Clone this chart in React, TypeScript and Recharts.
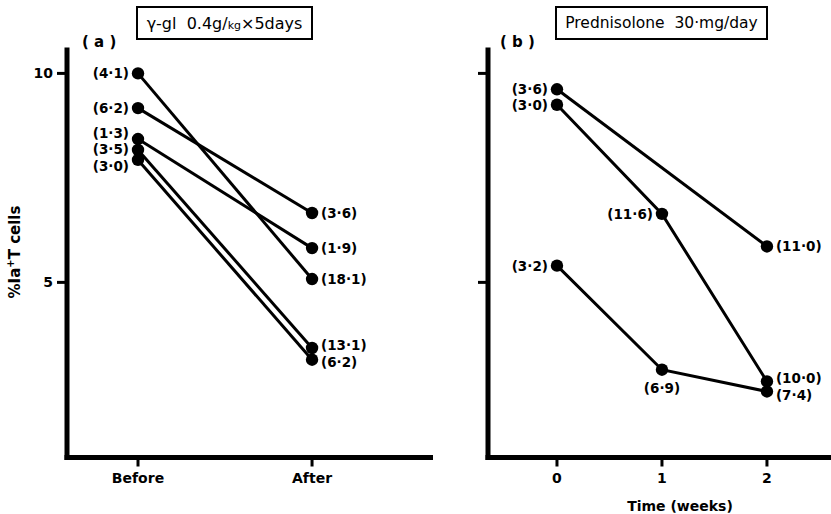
import { LineChart, Line, XAxis, YAxis, LabelList } from "recharts";

// panel (a): gamma-globulin, before / after
const gammaPhases = [0, 1];
const gammaTickLabels = ["Before", "After"];
const gammaBefore = [10.0, 9.17, 8.43, 8.17, 7.93];
const gammaAfter = [5.08, 6.66, 5.82, 3.43, 3.15];
const gammaBeforeTags = ["4·1", "6·2", "1·3", "3·5", "3·0"];
const gammaAfterTags = ["18·1", "3·6", "1·9", "13·1", "6·2"];

// panel (b): prednisolone, weeks 0-2
const predWeeks = [0, 1, 2];
const predA = [9.62, null, 5.86];
const predB = [9.25, 6.64, 2.63];
const predC = [5.4, 2.91, 2.39];
const predATags = ["3·6", null, "11·0"];
const predBTags = ["3·0", "11·6", "10·0"];
const predCTags = ["3·2", "6·9", "7·4"];

const yTicks = [5, 10];
const yDomain = [0.81, 10.56];

type Pt = { x: number; y: number; tag: string };

const toPoints = (xs: number[], ys: (number | null)[], tags: (string | null)[]): Pt[] =>
  xs
    .map((x, i) => (ys[i] == null ? null : { x, y: ys[i] as number, tag: `(${tags[i]})` }))
    .filter((p): p is Pt => p !== null);

const gammaSeries = gammaBefore.map((b, i) =>
  toPoints(gammaPhases, [b, gammaAfter[i]], [gammaBeforeTags[i], gammaAfterTags[i]])
);
const predSeries = [
  toPoints(predWeeks, predA, predATags),
  toPoints(predWeeks, predB, predBTags),
  toPoints(predWeeks, predC, predCTags),
];
const predMiddle = ["left", "left", "below"];

const CHART_H = 514;
const TOP = 50;
const XAXIS_H = 56.5;
const PX_PER_UNIT = (CHART_H - TOP - XAXIS_H) / (yDomain[1] - yDomain[0]);

// push labels in the same column apart so they stack like the original
function tagOffsets(series: Pt[][], gap: number): number[][] {
  const offs = series.map((pts) => pts.map(() => 0));
  const cols = new Map<number, { s: number; p: number; v: number }[]>();
  series.forEach((pts, s) =>
    pts.forEach((pt, p) => {
      const c = cols.get(pt.x) ?? [];
      c.push({ s, p, v: pt.y });
      cols.set(pt.x, c);
    })
  );
  const place = (g: { v: number }[]) => {
    const mean = g.reduce((a, it) => a + it.v, 0) / g.length;
    return g.map((_, k) => mean + gap * ((g.length - 1) / 2 - k));
  };
  cols.forEach((items) => {
    items.sort((a, b) => b.v - a.v);
    const groups = items.map((it) => [it]);
    let merged = true;
    while (merged) {
      merged = false;
      for (let i = 0; i < groups.length - 1; i++) {
        const a = place(groups[i]);
        const b = place(groups[i + 1]);
        if (a[a.length - 1] - b[0] < gap) {
          groups.splice(i, 2, [...groups[i], ...groups[i + 1]]);
          merged = true;
          break;
        }
      }
    }
    groups.forEach((g) => {
      const pos = place(g);
      g.forEach((it, k) => {
        offs[it.s][it.p] = (it.v - pos[k]) * PX_PER_UNIT;
      });
    });
  });
  return offs;
}

const gammaOffs = tagOffsets(gammaSeries, 0.4);
const predOffs = tagOffsets(predSeries, 0.4);

const FONT = "'DejaVu Sans', sans-serif";
const ink = "#000";

const axisLine = { stroke: ink, strokeWidth: 5, strokeLinecap: "square" as const };
const tickLine = { stroke: ink, strokeWidth: 3 };
const tickText = { fill: ink, fontSize: 14, fontWeight: "bold", fontFamily: FONT };

const renderTag = (pts: Pt[], lastX: number, middle: string, offs: number[]) => (props: any) => {
  const { x, y, index, value } = props;
  const px = pts[index]?.x;
  const ty = y + (offs[index] ?? 0);
  const side = px === 0 ? "left" : px === lastX ? "right" : middle;
  const common = { fill: ink, fontSize: 13.5, fontWeight: "bold", fontFamily: FONT, dy: "0.36em" };
  if (side === "left")
    return <text x={x - 9} y={ty} textAnchor="end" {...common}>{value}</text>;
  if (side === "right")
    return <text x={x + 9} y={ty} textAnchor="start" {...common}>{value}</text>;
  return <text x={x} y={y + 18} textAnchor="middle" {...common}>{value}</text>;
};

function App() {
  return (
    <div style={{ position: "absolute", left: 0, top: 0, width: 831, height: 514, background: "#fff", fontFamily: FONT }}>
      {/* (a) */}
      <LineChart
        width={433}
        height={CHART_H}
        margin={{ top: TOP, right: 0, left: 0, bottom: 0 }}
        style={{ position: "absolute", left: 0, top: 0 }}
      >
        <XAxis
          type="number"
          dataKey="x"
          domain={[-0.408, 1.695]}
          ticks={gammaPhases}
          interval={0}
          tickFormatter={(v) => gammaTickLabels[v]}
          height={XAXIS_H}
          tickSize={9}
          tickMargin={7}
          axisLine={axisLine}
          tickLine={tickLine}
          tick={tickText}
        />
        <YAxis
          type="number"
          domain={yDomain}
          ticks={yTicks}
          interval={0}
          width={67}
          tickSize={10}
          tickMargin={4}
          axisLine={axisLine}
          tickLine={tickLine}
          tick={tickText}
        />
        {gammaSeries.map((pts, i) => (
          <Line
            key={i}
            data={pts}
            dataKey="y"
            stroke={ink}
            strokeWidth={3}
            dot={{ r: 6.2, fill: ink, stroke: ink, strokeWidth: 0 }}
            isAnimationActive={false}
          >
            <LabelList dataKey="tag" content={renderTag(pts, 1, "right", gammaOffs[i])} />
          </Line>
        ))}
      </LineChart>

      {/* (b) */}
      <LineChart
        width={411}
        height={CHART_H}
        margin={{ top: TOP, right: 0, left: 0, bottom: 0 }}
        style={{ position: "absolute", left: 420, top: 0 }}
      >
        <XAxis
          type="number"
          dataKey="x"
          domain={[-0.657, 2.61]}
          ticks={predWeeks}
          interval={0}
          height={XAXIS_H}
          tickSize={9}
          tickMargin={7}
          axisLine={axisLine}
          tickLine={tickLine}
          tick={tickText}
        />
        <YAxis
          type="number"
          domain={yDomain}
          ticks={yTicks}
          interval={0}
          width={68}
          tickSize={10}
          tickFormatter={() => ""}
          axisLine={axisLine}
          tickLine={tickLine}
          tick={tickText}
        />
        {predSeries.map((pts, i) => (
          <Line
            key={i}
            data={pts}
            dataKey="y"
            stroke={ink}
            strokeWidth={3}
            dot={{ r: 6.2, fill: ink, stroke: ink, strokeWidth: 0 }}
            isAnimationActive={false}
          >
            <LabelList dataKey="tag" content={renderTag(pts, 2, predMiddle[i], predOffs[i])} />
          </Line>
        ))}
      </LineChart>

      {/* titles and labels */}
      <div
        style={{
          position: "absolute", left: 136, top: 6, width: 177, height: 34, boxSizing: "border-box",
          border: "2px solid #000", display: "flex", alignItems: "center", justifyContent: "center",
          fontSize: 16, whiteSpace: "nowrap",
        }}
      >
        <span>γ-gl&nbsp; 0.4g/<span style={{ fontSize: 11 }}>kg</span>×5days</span>
      </div>
      <div
        style={{
          position: "absolute", left: 555, top: 6, width: 213, height: 34, boxSizing: "border-box",
          border: "2px solid #000", display: "flex", alignItems: "center", justifyContent: "center",
          fontSize: 15.5, whiteSpace: "nowrap",
        }}
      >
        <span>Prednisolone&nbsp; 30·mg/day</span>
      </div>
      <div style={{ position: "absolute", left: 82, top: 33, fontSize: 15, fontWeight: "bold", whiteSpace: "pre" }}>( a )</div>
      <div style={{ position: "absolute", left: 500, top: 33, fontSize: 15, fontWeight: "bold", whiteSpace: "pre" }}>( b )</div>
      <div
        style={{
          position: "absolute", left: 15, top: 252, transform: "translate(-50%, -50%) rotate(-90deg)",
          fontSize: 15, fontWeight: "bold", whiteSpace: "nowrap", lineHeight: "16px",
        }}
      >
        %Ia<sup style={{ fontSize: 10, lineHeight: 0 }}>+</sup>T cells
      </div>
      <div
        style={{
          position: "absolute", left: 680, top: 506, transform: "translate(-50%, -50%)",
          fontSize: 14, fontWeight: "bold", whiteSpace: "nowrap",
        }}
      >
        Time (weeks)
      </div>
    </div>
  );
}

export default App;
